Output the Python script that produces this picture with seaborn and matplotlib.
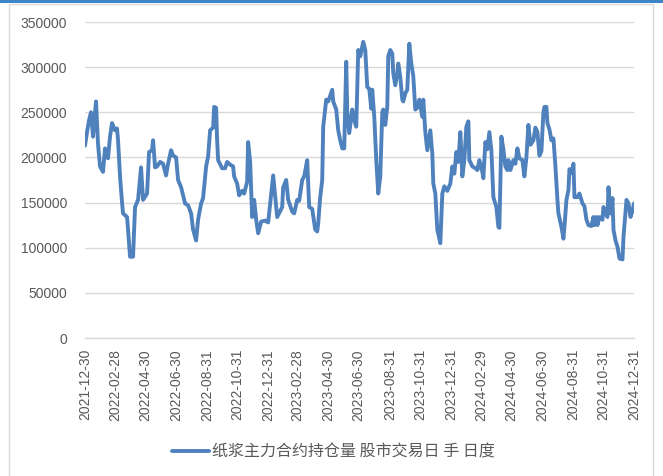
import numpy as np
import pandas as pd
import matplotlib
matplotlib.use("Agg")
import matplotlib.pyplot as plt
import matplotlib.dates as mdates
from matplotlib.patches import Rectangle
from matplotlib.ticker import FuncFormatter
import seaborn as sns

# ---- data ----
start_date = "2021-12-30"
day_offsets = [
    0, 4, 8, 12, 16, 22, 26, 30, 36, 40, 46, 50, 54, 60, 64, 66, 70, 74, 76, 84,
    86, 90, 96, 100, 106, 112, 116, 124, 128, 134, 136, 140, 144, 150, 156, 162, 166, 172, 176, 182,
    186, 192, 200, 206, 212, 216, 222, 226, 232, 236, 242, 246, 250, 256, 258, 262, 264, 266, 274, 280,
    284, 290, 296, 298, 304, 308, 314, 318, 324, 326, 330, 334, 338, 342, 346, 352, 360, 366, 376, 384,
    394, 396, 402, 406, 414, 418, 424, 428, 434, 438, 444, 448, 454, 460, 464, 466, 470, 474, 476, 482,
    486, 494, 496, 502, 506, 510, 514, 518, 522, 524, 528, 534, 538, 542, 546, 550, 556, 560, 564, 568,
    572, 574, 578, 582, 586, 590, 594, 596, 600, 604, 606, 610, 614, 616, 620, 624, 626, 630, 634, 636,
    640, 644, 648, 652, 656, 660, 664, 668, 674, 676, 680, 684, 690, 694, 696, 700, 704, 710, 714, 718,
    724, 730, 734, 738, 742, 746, 750, 754, 758, 762, 766, 768, 774, 780, 784, 788, 794, 796, 800, 804,
    808, 812, 816, 822, 826, 828, 832, 836, 840, 844, 846, 850, 856, 860, 864, 868, 874, 878, 882, 886,
    890, 896, 900, 904, 908, 912, 916, 918, 922, 924, 928, 932, 936, 940, 944, 946, 952, 956, 958, 962,
    966, 968, 972, 976, 978, 984, 988, 994, 998, 1002, 1006, 1012, 1016, 1018, 1022, 1024, 1028, 1034, 1036, 1040,
    1044, 1046, 1050, 1054, 1056, 1060, 1064, 1068, 1074, 1076, 1082, 1086, 1090, 1094, 1097,
]
open_interest = [
    213000, 228000, 241000, 250000, 223000, 262000, 215000, 190000, 184000, 210000,
    199000, 223000, 238000, 230000, 232000, 219000, 179000, 150000, 138000, 134000,
    120000, 90000, 90000, 145000, 153000, 189000, 153000, 160000, 206000, 208000,
    219000, 189000, 190000, 195000, 193000, 180000, 193000, 208000, 202000, 200000,
    175000, 167000, 149000, 147000, 138000, 120000, 108000, 131000, 149000, 155000,
    190000, 201000, 230000, 233000, 256000, 255000, 219000, 197000, 188000, 188000,
    195000, 192000, 190000, 179000, 171000, 158000, 163000, 160000, 173000, 217000,
    195000, 134000, 153000, 131000, 116000, 129000, 130000, 128000, 180000, 134000,
    145000, 167000, 175000, 153000, 140000, 138000, 153000, 152000, 175000, 179000,
    197000, 145000, 143000, 120000, 118000, 127000, 156000, 175000, 234000, 264000,
    262000, 275000, 262000, 253000, 230000, 219000, 210000, 210000, 306000, 250000,
    227000, 253000, 241000, 234000, 319000, 312000, 328000, 319000, 278000, 276000,
    254000, 275000, 245000, 197000, 160000, 179000, 250000, 253000, 236000, 256000,
    312000, 319000, 315000, 293000, 280000, 293000, 304000, 289000, 264000, 262000,
    271000, 275000, 326000, 304000, 290000, 253000, 255000, 264000, 245000, 264000,
    228000, 208000, 230000, 204000, 171000, 160000, 120000, 105000, 160000, 168000,
    163000, 171000, 190000, 182000, 206000, 195000, 228000, 179000, 197000, 234000,
    240000, 197000, 190000, 188000, 186000, 197000, 184000, 177000, 217000, 209000,
    228000, 208000, 156000, 145000, 123000, 122000, 223000, 209000, 190000, 186000,
    197000, 186000, 197000, 193000, 210000, 199000, 197000, 179000, 200000, 236000,
    214000, 219000, 233000, 228000, 202000, 207000, 250000, 256000, 256000, 238000,
    231000, 219000, 221000, 190000, 153000, 138000, 123000, 110000, 123000, 153000,
    164000, 187000, 183000, 193000, 156000, 156000, 160000, 149000, 146000, 131000,
    125000, 124000, 134000, 125000, 134000, 125000, 134000, 131000, 145000, 138000,
    134000, 167000, 138000, 155000, 120000, 108000, 101000, 88000, 87000, 112000,
    153000, 149000, 134000, 141000, 149000,
]
tick_labels = [
    "2021-12-30", "2022-02-28", "2022-04-30", "2022-06-30", "2022-08-31", "2022-10-31",
    "2022-12-31", "2023-02-28", "2023-04-30", "2023-06-30", "2023-08-31", "2023-10-31",
    "2023-12-31", "2024-02-29", "2024-04-30", "2024-06-30", "2024-08-31", "2024-10-31",
    "2024-12-31",
]
y_ticks = [0, 50000, 100000, 150000, 200000, 250000, 300000, 350000]
series_name = "纸浆主力合约持仓量 股市交易日 手 日度"

# ---- build table ----
df = pd.DataFrame({
    "date": pd.Timestamp(start_date) + pd.to_timedelta(day_offsets, unit="D"),
    "value": open_interest,
})

sns.set_style("white")
plt.rcParams["font.family"] = ["Liberation Sans", "Noto Sans CJK SC", "DejaVu Sans"]

W, H = 663, 476
fig = plt.figure(figsize=(W / 100, H / 100), dpi=100)
ax = fig.add_axes([85 / W, 1 - 338 / H, (634 - 85) / W, (338 - 22) / H])

line_color = "#4f81bd"
grid_color = "#d9d9d9"
text_color = "#595959"

sns.lineplot(data=df, x="date", y="value", ax=ax, color=line_color,
             linewidth=2.8, label=series_name, legend=False)

tick_dates = pd.to_datetime(tick_labels)
ax.set_xlim(tick_dates[0], tick_dates[-1])
ax.set_xticks(tick_dates)
ax.set_xticklabels(tick_labels, rotation=90, color=text_color, fontsize=10)
ax.set_ylim(0, 350000)
ax.set_yticks(y_ticks)
ax.yaxis.set_major_formatter(FuncFormatter(lambda v, p: f"{int(v)}"))
ax.tick_params(axis="y", colors=text_color, labelsize=10, length=0, pad=13)
ax.tick_params(axis="x", colors=grid_color, labelcolor=text_color, length=5,
               width=1, direction="out", pad=3)
ax.set_xlabel("")
ax.set_ylabel("")

ax.grid(axis="y", color=grid_color, linewidth=1)
ax.grid(axis="x", visible=False)
ax.set_axisbelow(True)
for s in ["left", "right", "top"]:
    ax.spines[s].set_visible(False)
ax.spines["bottom"].set_color(grid_color)
ax.spines["bottom"].set_linewidth(1)

handles, labels = ax.get_legend_handles_labels()
fig.legend(handles, labels, loc="center", bbox_to_anchor=(0.503, 1 - 452 / H),
           frameon=False, handlelength=2.3, handletextpad=0.15,
           labelcolor=text_color,
           prop={"family": ["Noto Sans CJK SC", "DejaVu Sans"], "size": 11.5})

# chart frame and top strip
fig.patches.append(Rectangle((9 / W, -0.05), (653 - 9) / W, 1.05 - 4 / H,
                             transform=fig.transFigure, fill=False,
                             edgecolor=grid_color, linewidth=1))
fig.patches.append(Rectangle((0, 1 - 3 / H), 1, 3 / H, transform=fig.transFigure,
                             facecolor="#3d85c6", edgecolor="none"))

fig.savefig("out.png", dpi=100)
